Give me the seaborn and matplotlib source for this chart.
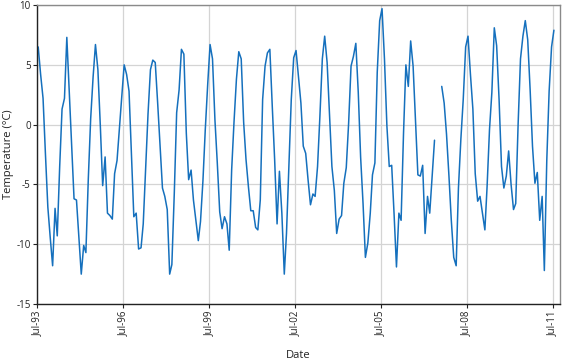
import numpy as np
import pandas as pd
import matplotlib
matplotlib.use("Agg")
import matplotlib.pyplot as plt
import matplotlib.dates as mdates
import seaborn as sns

# Monthly temperature values (°C), starting mid-July 1993; None = missing
temps = [
    6.5, 4.2, 2.2, -2.4, -6.9, -9.4, -11.8, -7.0, -9.3, -3.5, 1.3, 2.2,
    7.3, 2.7, -1.8, -6.2, -6.3, -9.4, -12.5, -10.1, -10.7, -4.5, 0.5, 4.0,
    6.7, 4.6, -0.1, -5.1, -2.7, -7.4, -7.6, -7.9, -4.1, -3.0, -0.3, 2.4,
    5.0, 4.2, 2.8, -2.4, -7.7, -7.4, -10.4, -10.3, -8.3, -3.7, 0.9, 4.6,
    5.4, 5.2, 1.8, -1.7, -5.3, -6.0, -7.1, -12.5, -11.7, -5.7, 1.0, 2.9,
    6.3, 5.9, -0.7, -4.6, -3.8, -6.3, -8.0, -9.7, -8.1, -4.7, -0.4, 3.4,
    6.7, 5.5, 0.4, -3.2, -7.3, -8.7, -7.7, -8.3, -10.5, -3.8, 0.2, 3.8,
    6.1, 5.5, 0.2, -2.9, -5.2, -7.2, -7.2, -8.6, -8.8, -6.3, 2.1, 4.9,
    6.0, 6.3, 1.5, -2.9, -8.3, -3.9, -7.4, -12.5, -9.1, -3.5, 2.1, 5.6,
    6.2, 4.0, 1.8, -1.8, -2.4, -4.6, -6.7, -5.8, -6.0, -3.5, 0.7, 5.5,
    7.4, 5.2, 0.7, -3.5, -5.5, -9.1, -7.9, -7.6, -4.9, -3.6, 0.1, 4.9,
    5.7, 6.8, 2.7, -2.7, -6.6, -11.1, -9.9, -7.4, -4.2, -3.2, 4.4, 8.7,
    9.7, 5.5, -0.1, -3.5, -3.4, -7.4, -11.9, -7.4, -8.0, -0.7, 5.0, 3.2,
    7.0, 4.9, 0.2, -4.2, -4.3, -3.4, -9.1, -6.0, -7.4, -4.3, -1.3, None,
    None, 3.2, 1.8, -0.8, -4.3, -8.0, -11.1, -11.8, -5.3, -1.2, 2.1, 6.5,
    7.4, 4.2, 1.3, -4.1, -6.4, -6.0, -7.4, -8.8, -5.2, -0.4, 2.7, 8.1,
    6.6, 2.1, -3.5, -5.3, -4.3, -2.2, -5.0, -7.1, -6.6, 0.1, 5.5, 7.4,
    8.7, 7.1, 2.9, -1.8, -4.9, -4.0, -8.0, -6.0, -12.2, -3.0, 2.8, 6.5,
    7.9,
]
start_month = "1993-07-01"
tick_dates = ["1993-07-01", "1996-07-01", "1999-07-01", "2002-07-01",
              "2005-07-01", "2008-07-01", "2011-07-01"]
y_ticks = [-15, -10, -5, 0, 5, 10]
x_limits = ["1993-07-01", "2011-10-01"]

dates = pd.date_range(start_month, periods=len(temps), freq="MS") + pd.Timedelta(days=14)
df = pd.DataFrame({"Date": dates, "Temp": pd.array(temps, dtype="Float64").astype(float)})
df["segment"] = df["Temp"].isna().cumsum()
df = df.dropna()

sns.set_theme(style="whitegrid")
plt.rcParams["font.family"] = ["Open Sans", "DejaVu Sans"]

fig = plt.figure(figsize=(5.62, 3.63), dpi=100)
ax = fig.add_axes([0.066, 0.1625, 0.9305, 0.8235])

sns.lineplot(data=df, x="Date", y="Temp", units="segment", estimator=None,
             color="#1570bd", linewidth=1.1, ax=ax)

ax.set_xlim(pd.Timestamp(x_limits[0]), pd.Timestamp(x_limits[1]))
ax.set_ylim(-15, 10)
ax.set_yticks(y_ticks)
ax.set_yticklabels([str(t) for t in y_ticks])
ax.xaxis.set_major_locator(matplotlib.ticker.FixedLocator(
    [mdates.date2num(pd.Timestamp(d)) for d in tick_dates]))
ax.xaxis.set_major_formatter(mdates.DateFormatter("%b-%y"))
plt.setp(ax.get_xticklabels(), rotation=90)

ax.set_facecolor("white")
ax.grid(True, color="#d4d4d4", linewidth=0.9)
for s in ["left", "bottom"]:
    ax.spines[s].set_color("#222222")
    ax.spines[s].set_linewidth(1.0)
for s in ["top", "right"]:
    ax.spines[s].set_color("#8a8a8a")
    ax.spines[s].set_linewidth(1.0)

ax.tick_params(axis="both", which="major", labelsize=7, length=3, width=0.8,
               color="#222222", pad=1.5, direction="out", left=True, bottom=True,
               labelcolor="#222222")
ax.set_xlabel("Date", fontsize=8, color="#222222")
ax.set_ylabel("Temperature (°C)", fontsize=8, color="#222222")
ax.xaxis.set_label_coords(0.5, -0.155)
ax.yaxis.set_label_coords(-0.045, 0.5)

fig.savefig("out.png", dpi=100)
